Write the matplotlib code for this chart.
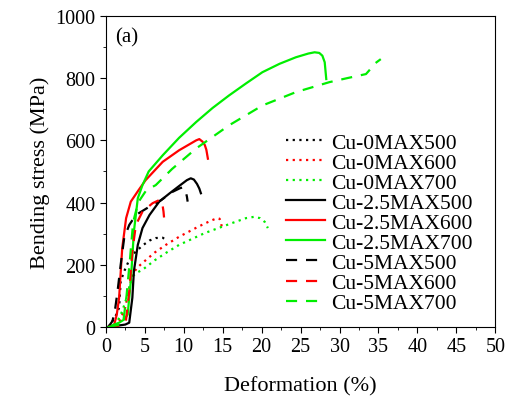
import matplotlib.pyplot as plt
from matplotlib.ticker import MultipleLocator

# deformation (%) / bending stress (MPa)
x_0_500 = [0.3, 1.2, 1.7, 1.9, 2.35, 2.9, 3.4, 4.7, 5.6, 6.4, 7.3, 7.6, 7.9]
y_0_500 = [0, 32, 62, 147, 179, 210, 232, 262, 278, 286, 287, 282, 275]
x_0_600 = [0.3, 1.6, 2.45, 2.9, 3.2, 3.4, 4.0, 4.7, 6.3, 7.7, 9.4, 11.9, 13.5, 14.3, 14.6, 14.8, 14.9]
y_0_600 = [0, 10, 59, 110, 145, 168, 190, 206, 240, 264, 290, 323, 342, 350, 348, 335, 316]
x_0_700 = [0.3, 1.3, 2.1, 2.8, 3.1, 3.4, 4.0, 4.7, 6.3, 7.7, 9.4, 12.7, 16.3, 18.0, 19.0, 19.8, 20.4, 20.8]
y_0_700 = [0, 8, 51, 104, 140, 163, 175, 184, 215, 238, 264, 302, 335, 350, 354, 350, 338, 318]

x_25_500 = [0.3, 2.5, 3.0, 3.4, 3.6, 4.1, 4.7, 5.6, 6.85, 8.2, 9.5, 10.4, 10.9, 11.3, 11.7, 12.0, 12.2]
y_25_500 = [0, 8, 14, 94, 180, 264, 318, 360, 403, 430, 455, 472, 478, 474, 460, 445, 430]
x_25_600 = [0.3, 0.9, 1.07, 1.4, 1.7, 2.1, 2.6, 3.2, 4.2, 5.1, 7.3, 9.4, 11.6, 12.0, 12.4, 12.7, 12.9, 13.1]
y_25_600 = [0, 4, 8, 40, 94, 254, 350, 403, 440, 472, 531, 568, 600, 604, 596, 585, 570, 541]
x_25_700 = [0.3, 1.7, 2.4, 2.8, 3.2, 3.6, 4.1, 4.7, 5.5, 7.3, 9.4, 11.6, 13.7, 15.8, 18.0, 20.1, 22.3, 24.4, 26.0, 26.8, 27.4, 27.8, 28.1, 28.3]
y_25_700 = [0, 14, 25, 40, 147, 307, 414, 456, 500, 552, 608, 659, 704, 744, 783, 819, 846, 867, 879, 883, 881, 872, 851, 797]

x_5_500 = [0.3, 0.85, 1.2, 1.5, 1.9, 2.35, 3.0, 3.85, 5.6, 7.1, 8.6, 9.5, 9.9, 10.2, 10.4, 10.5]
y_5_500 = [0, 19, 60, 115, 200, 286, 328, 360, 387, 408, 435, 446, 449, 440, 420, 403]
x_5_600 = [0.3, 2.0, 2.3, 2.57, 3.0, 3.4, 3.85, 4.7, 6.0, 6.85, 7.2, 7.4, 7.5]
y_5_600 = [0, 6, 10, 19, 115, 243, 328, 371, 398, 408, 405, 371, 344]
x_5_700 = [0.3, 2.2, 2.66, 3.1, 3.5, 4.16, 5.2, 6.4, 8.5, 11.6, 15.8, 20.1, 24.4, 28.7, 31.0, 33.4, 34.0, 34.6, 35.3]
y_5_700 = [0, 10, 102, 219, 337, 401, 440, 456, 508, 574, 648, 712, 755, 787, 800, 813, 830, 848, 861]

plt.rcParams["font.family"] = "Liberation Serif"

fig = plt.figure(figsize=(5.09, 4.02), dpi=100)
ax = fig.add_axes([0.208, 0.184, 0.765, 0.774])

dot = (0, (1, 2))
dash = (0, (5, 4))
lw = 1.6
grn = "#00ee00"

ax.plot(x_0_500, y_0_500, color="black", ls=dot, lw=lw, label="Cu-0MAX500")
ax.plot(x_0_600, y_0_600, color="red", ls=dot, lw=lw, label="Cu-0MAX600")
ax.plot(x_0_700, y_0_700, color=grn, ls=dot, lw=lw, label="Cu-0MAX700")
ax.plot(x_25_500, y_25_500, color="black", ls="-", lw=lw, label="Cu-2.5MAX500")
ax.plot(x_25_600, y_25_600, color="red", ls="-", lw=lw, label="Cu-2.5MAX600")
ax.plot(x_25_700, y_25_700, color=grn, ls="-", lw=lw, label="Cu-2.5MAX700")
ax.plot(x_5_500, y_5_500, color="black", ls=dash, lw=lw, label="Cu-5MAX500")
ax.plot(x_5_600, y_5_600, color="red", ls=dash, lw=lw, label="Cu-5MAX600")
ax.plot(x_5_700, y_5_700, color=grn, ls=dash, lw=lw, label="Cu-5MAX700")

ax.set_xlim(0, 50)
ax.set_ylim(0, 1000)
ax.xaxis.set_major_locator(MultipleLocator(5))
ax.xaxis.set_minor_locator(MultipleLocator(2.5))
ax.yaxis.set_major_locator(MultipleLocator(200))
ax.yaxis.set_minor_locator(MultipleLocator(100))
ax.tick_params(which="both", direction="out", labelsize=14.5)
ax.tick_params(which="major", length=4)
ax.tick_params(which="minor", length=2.5)

ax.set_xlabel("Deformation (%)", fontsize=16, labelpad=14)
ax.set_ylabel("Bending stress (MPa)", fontsize=16)
ax.text(0.025, 0.965, "(a)", transform=ax.transAxes, fontsize=15, va="top")

ax.legend(loc="center left", bbox_to_anchor=(0.44, 0.335), frameon=False,
          fontsize=15.5, handlelength=1.8, handletextpad=0.3, labelspacing=0.0,
          borderaxespad=0)

plt.savefig("out.png", dpi=100)
